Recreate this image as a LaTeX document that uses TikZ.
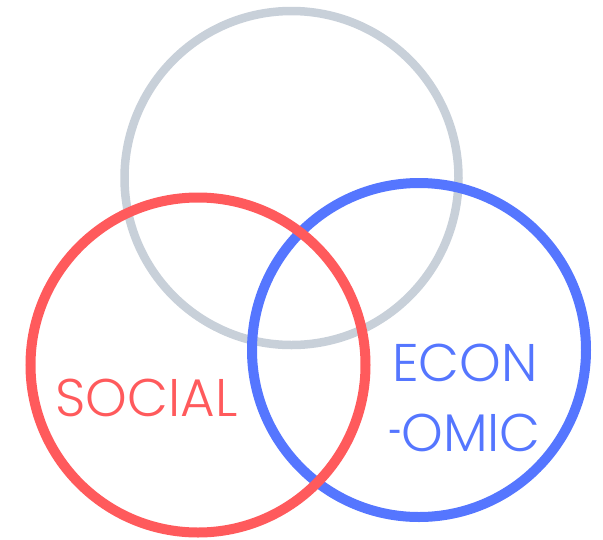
\documentclass[tikz,border=0pt]{standalone}
\usepackage{fontspec}
\IfFontExistsTF{Poppins Light}{\setmainfont{Poppins Light}}{\setmainfont{Poppins}}
\definecolor{cgrey}{HTML}{C8D0D9}
\definecolor{cred}{HTML}{FF5A5C}
\definecolor{cblue}{HTML}{5576FF}
\tikzset{
  ring/.style={circle, draw, minimum size=#1, inner sep=0pt},
  lbl/.style={font=\fontsize{53}{56}\selectfont, inner sep=0pt, anchor=base}
}
\begin{document}
\begin{tikzpicture}[x=1pt,y=-1pt]
\useasboundingbox (0,0) rectangle (603,539);
\node[ring=334pt, draw=cgrey, line width=8.5pt] (grey) at (291.5,178) {};
\node[ring=334pt, draw=cblue, line width=10pt] (blue) at (419,350) {};
\node[ring=335pt, draw=cred, line width=10pt] (red) at (198,365) {};
\node[lbl, text=cred] (social) at (146.5,416.5) {SOCIAL};
\node[lbl, text=cblue] (econ) at (465,381.5) {ECON};
\node[lbl, text=cblue] (omic) at (465,451.5) {\resizebox{13pt}{\height}{-}\kern-1pt OMIC};
\end{tikzpicture}
\end{document}
